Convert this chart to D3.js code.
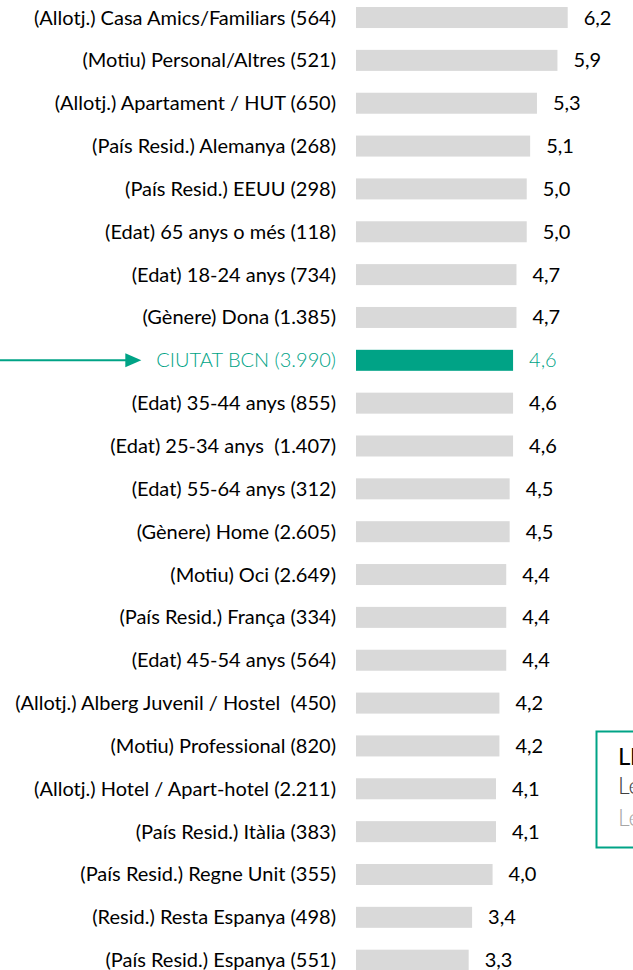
<!DOCTYPE html>
<html>
<head>
<meta charset="utf-8">
<script src="https://cdn.jsdelivr.net/npm/d3@7"></script>
<style>
  html, body { margin: 0; padding: 0; background: #fff; overflow: hidden; }
  svg { display: block; }
  text { white-space: pre; }
</style>
</head>
<body>
<svg id="chart" width="633" height="970"></svg>
<script>
// ---- data ----
const categories = [
  "(Allotj.) Casa Amics/Familiars (564)",
  "(Motiu) Personal/Altres (521)",
  "(Allotj.) Apartament / HUT (650)",
  "(País Resid.) Alemanya (268)",
  "(País Resid.) EEUU (298)",
  "(Edat) 65 anys o més (118)",
  "(Edat) 18-24 anys (734)",
  "(Gènere) Dona (1.385)",
  "CIUTAT BCN (3.990)",
  "(Edat) 35-44 anys (855)",
  "(Edat) 25-34 anys  (1.407)",
  "(Edat) 55-64 anys (312)",
  "(Gènere) Home (2.605)",
  "(Motiu) Oci (2.649)",
  "(País Resid.) França (334)",
  "(Edat) 45-54 anys (564)",
  "(Allotj.) Alberg Juvenil / Hostel  (450)",
  "(Motiu) Professional (820)",
  "(Allotj.) Hotel / Apart-hotel (2.211)",
  "(País Resid.) Itàlia (383)",
  "(País Resid.) Regne Unit (355)",
  "(Resid.) Resta Espanya (498)",
  "(País Resid.) Espanya (551)"
];
const values = [6.2, 5.9, 5.3, 5.1, 5.0, 5.0, 4.7, 4.7, 4.6, 4.6, 4.6, 4.5, 4.5, 4.4, 4.4, 4.4, 4.2, 4.2, 4.1, 4.1, 4.0, 3.4, 3.3];
const highlight = "CIUTAT BCN (3.990)";
const legendLines = ["Ll", "Le", "Le"];

// ---- setup ----
const TEAL = "#00A386";
const GREY = "#D9D9D9";
const FONT = "Lato, 'Open Sans', sans-serif";

const svg = d3.select("#chart");
const data = categories.map((c, i) => ({ cat: c, val: values[i] }));

const x = d3.scaleLinear().domain([0, 6.2]).range([356, 567.7]);
const y = d3.scaleBand().domain(categories)
  .range([-3.9, 981.6]).paddingInner(0.51).paddingOuter(0.255);

const loc = d3.formatLocale({ decimal: ",", thousands: ".", grouping: [3], currency: ["", "€"] });
const fmt = loc.format(".1f");

// fit font size so the longest label spans ~302px
const probe = svg.append("text").attr("font-family", FONT).attr("font-size", 20)
  .style("white-space", "pre").text(categories[0]);
const w20 = probe.node().getComputedTextLength();
probe.remove();
const FS = Math.max(14, Math.min(22, 20 * 302 / w20));

// bars
svg.append("g").selectAll("rect").data(data).join("rect")
  .attr("x", x(0))
  .attr("y", d => y(d.cat))
  .attr("width", d => x(d.val) - x(0))
  .attr("height", y.bandwidth())
  .attr("fill", d => d.cat === highlight ? TEAL : GREY);

// category labels
const labels = svg.append("g").selectAll("text").data(data).join("text")
  .attr("x", 336)
  .attr("y", d => y(d.cat) + y.bandwidth() / 2)
  .attr("dy", "0.35em")
  .attr("text-anchor", "end")
  .attr("font-family", FONT)
  .attr("font-size", FS)
  .attr("font-weight", d => d.cat === highlight ? 300 : 400)
  .attr("fill", d => d.cat === highlight ? TEAL : "#000")
  .text(d => d.cat);

// value labels
svg.append("g").selectAll("text").data(data).join("text")
  .attr("x", d => x(d.val) + 16)
  .attr("y", d => y(d.cat) + y.bandwidth() / 2)
  .attr("dy", "0.35em")
  .attr("font-family", FONT)
  .attr("font-size", FS)
  .attr("font-weight", d => d.cat === highlight ? 300 : 400)
  .attr("fill", d => d.cat === highlight ? TEAL : "#000")
  .text(d => fmt(d.val));

// arrow pointing at the highlighted label
const hl = labels.filter(d => d.cat === highlight).node();
const hlStart = 336 - hl.getComputedTextLength();
const ay = y(highlight) + y.bandwidth() / 2;
const tip = hlStart - 15;
const arrow = svg.append("g");
arrow.append("line")
  .attr("x1", 0).attr("x2", tip - 14)
  .attr("y1", ay).attr("y2", ay)
  .attr("stroke", TEAL).attr("stroke-width", 2);
arrow.append("path")
  .attr("d", d3.line()([[tip - 16, ay - 7], [tip, ay], [tip - 16, ay + 7]]) + "Z")
  .attr("fill", TEAL);

// legend box (partly off-canvas)
const lg = svg.append("g");
lg.append("rect")
  .attr("x", 596.5).attr("y", 731.5)
  .attr("width", 120).attr("height", 116)
  .attr("fill", "#fff").attr("stroke", TEAL).attr("stroke-width", 2);
const legendStyles = [
  { size: 24, weight: 400, color: "#000", base: 765 },
  { size: 23, weight: 300, color: "#404040", base: 794 },
  { size: 23, weight: 300, color: "#A6A6A6", base: 826 }
];
lg.selectAll("text").data(legendLines).join("text")
  .attr("x", 618)
  .attr("y", (d, i) => legendStyles[i].base)
  .attr("font-family", FONT)
  .attr("font-size", (d, i) => legendStyles[i].size)
  .attr("font-weight", (d, i) => legendStyles[i].weight)
  .attr("fill", (d, i) => legendStyles[i].color)
  .text(d => d);
</script>
</body>
</html>
